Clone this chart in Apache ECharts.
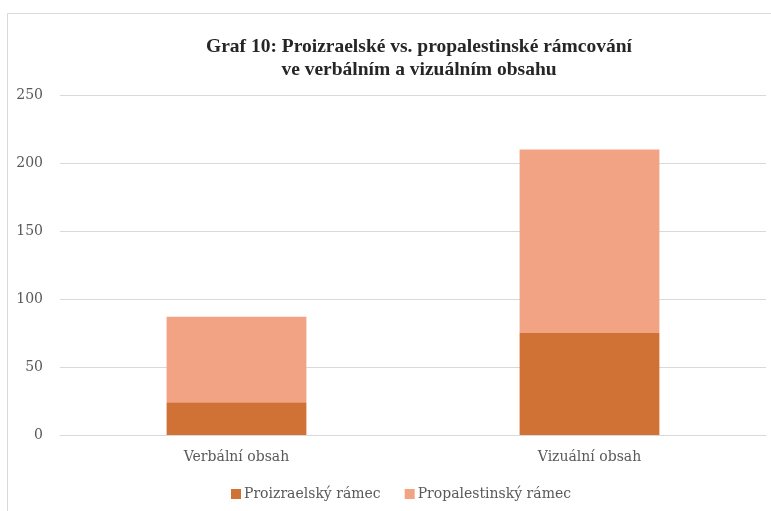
<!DOCTYPE html>
<html><head><meta charset="utf-8">
<script src="https://cdn.jsdelivr.net/npm/echarts@6/dist/echarts.min.js"></script>
<style>html,body{margin:0;padding:0;background:#fff}#c{width:771px;height:511px}</style>
</head><body><div id="c"></div>
<script>
const categories = ['Verbální obsah', 'Vizuální obsah'];
const proizraelsky = [24, 75];
const propalestinsky = [63, 135];
const seriesNames = ['Proizraelský rámec', 'Propalestinský rámec'];
const chart = echarts.init(document.getElementById('c'));
const lab = '#595959';
chart.setOption({
  animation: false,
  textStyle: {fontFamily: 'DejaVu Serif'},
  graphic: [{type:'rect', shape:{x:7.5,y:13.5,width:800,height:600}, style:{fill:'none', stroke:'#d9d9d9', lineWidth:1}, silent:true}],
  title: {
    text: 'Graf 10: Proizraelské vs. propalestinské rámcování\nve verbálním a vizuálním obsahu',
    left: 414, top: 30, textAlign: 'center',
    textStyle: {fontFamily: 'Liberation Serif', fontWeight: 'bold', fontSize: 19.5, color: '#262626', lineHeight: 23}
  },
  legend: {
    bottom: 5, left: 226, itemWidth: 10, itemHeight: 10, itemGap: 24,
    icon: 'rect',
    textStyle: {fontFamily: 'DejaVu Serif', fontSize: 14, color: lab, padding: [0, 0, 0, -2]}
  },
  grid: {left: 60, right: 5, top: 95, bottom: 76, containLabel: false},
  xAxis: {
    type: 'category', data: categories,
    axisLine: {lineStyle: {color: '#d9d9d9'}}, axisTick: {show: false},
    axisLabel: {color: lab, fontSize: 14, margin: 15}
  },
  yAxis: {
    type: 'value', min: 0, max: 250, interval: 50,
    axisLine: {show: false}, axisTick: {show: false},
    splitLine: {lineStyle: {color: '#d9d9d9'}},
    axisLabel: {color: lab, fontSize: 14, margin: 17}
  },
  series: [
    {name: seriesNames[0], type: 'bar', stack: 's', data: proizraelsky, barWidth: '39.6%', itemStyle: {color: '#D07135'}},
    {name: seriesNames[1], type: 'bar', stack: 's', data: propalestinsky, barWidth: '39.6%', itemStyle: {color: '#F2A384'}}
  ]
});
</script></body></html>
